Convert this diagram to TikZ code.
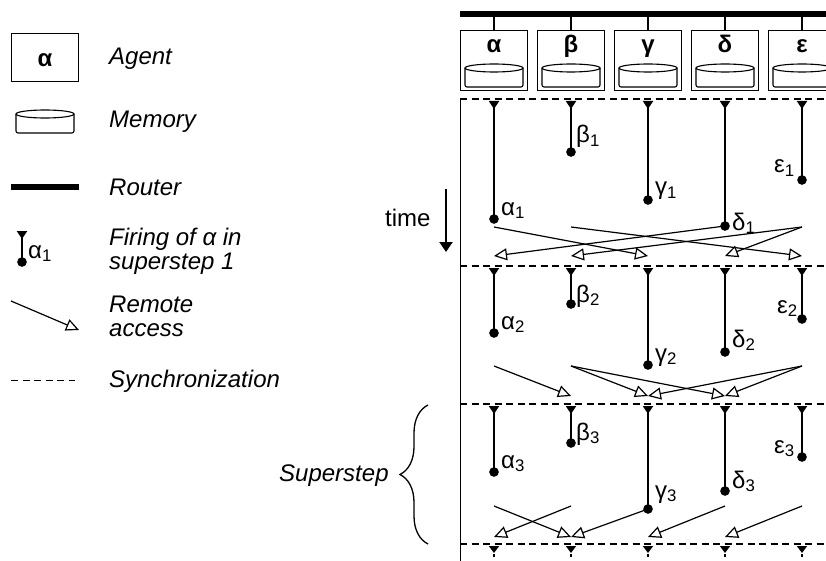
\documentclass[tikz,border=0pt]{standalone}
\usepackage{fontspec}
\setmainfont{Liberation Sans}
\usetikzlibrary{positioning,arrows.meta,decorations.pathreplacing}
\tikzset{
	>=Stealth, % arrow heads of the time axis
	node distance=9pt, % gap between two agents
	every node/.style={font=\fontsize{24}{24}\selectfont, inner sep=0pt},
	agent/.style={rectangle, draw, line width=1pt, minimum width=67pt, minimum height=60pt},
	agentname/.style={font=\fontsize{24}{24}\selectfont\bfseries, anchor=base},
	sublabel/.style={anchor=base west},
	legend/.style={font=\fontsize{24}{24}\selectfont\itshape, anchor=base west, align=left},
	firing/.style={line width=1.8pt, shorten >=-4.75pt, {Triangle[reversed,length=8pt,width=10pt]}-{Circle[length=9.5pt]}},
	stub/.style={line width=1.5pt, {Triangle[reversed,length=7pt,width=10pt]}-, dash pattern=on 0pt off 3pt on 2.5pt off 9pt},
	access/.style={line width=1.2pt, -{Triangle[open,length=13pt,width=12pt]}},
	sync/.style={line width=1.4pt, dash pattern=on 7pt off 4.5pt},
	router/.style={line width=6pt},
	memory/.pic={
		\draw[line width=1.1pt,rounded corners=2pt] (-29,-8) -- (-29,11) -- (29,11) -- (29,-8);
		\draw[line width=1.1pt] (0,-8) ellipse [x radius=29, y radius=4];
	},
}
\begin{document}
\begin{tikzpicture}[x=1pt,y=-1pt]
	\clip (0,0) rectangle (826,561);
	%Nodes
	\node[agent] (alpha) at (494,61) {};
	\node[agent] (beta) [right=of alpha] {};
	\node[agent] (gamma) [right=of beta] {};
	\node[agent] (delta) [right=of gamma] {};
	\node[agent] (epsilon) [right=of delta] {};
	\node[agentname] (nalpha) at (494,53) {α};
	\node[agentname] (nbeta) at (571,53) {β};
	\node[agentname] (ngamma) at (648,53) {γ};
	\node[agentname] (ndelta) at (725,53) {δ};
	\node[agentname] (nepsilon) at (802,53) {ε};
	\pic (malpha) at (494,76) {memory};
	\pic (mbeta) at (571,76) {memory};
	\pic (mgamma) at (648,76) {memory};
	\pic (mdelta) at (725,76) {memory};
	\pic (mepsilon) at (802,76) {memory};

	\coordinate (routerl) at (460,14);
	\coordinate (routerr) at (826,14);
	\coordinate (syncl0) at (460,99);
	\coordinate (syncr0) at (826,99);
	\coordinate (syncl1) at (460,266);
	\coordinate (syncr1) at (826,266);
	\coordinate (syncl2) at (460,404);
	\coordinate (syncr2) at (826,404);
	\coordinate (syncl3) at (460,544);
	\coordinate (syncr3) at (826,544);
	\coordinate (axisb) at (460,561);

	% ends of the firings
	\coordinate (a1) at (494,219);
	\coordinate (b1) at (571,152);
	\coordinate (c1) at (648,200);
	\coordinate (d1) at (725,226);
	\coordinate (e1) at (802,180);
	\coordinate (a2) at (494,333);
	\coordinate (b2) at (571,304);
	\coordinate (c2) at (648,365);
	\coordinate (d2) at (725,352);
	\coordinate (e2) at (802,319);
	\coordinate (a3) at (494,472);
	\coordinate (b3) at (571,443);
	\coordinate (c3) at (648,509);
	\coordinate (d3) at (725,491);
	\coordinate (e3) at (802,457);

	\node[sublabel] (la1) at (501,215) {α\textsubscript{1}};
	\node[sublabel] (lb1) at (576,143) {β\textsubscript{1}};
	\node[sublabel] (lc1) at (655,195) {γ\textsubscript{1}};
	\node[sublabel] (ld1) at (732,230) {δ\textsubscript{1}};
	\node[sublabel] (le1) at (774,173) {ε\textsubscript{1}};
	\node[sublabel] (la2) at (501,329) {α\textsubscript{2}};
	\node[sublabel] (lb2) at (576,302) {β\textsubscript{2}};
	\node[sublabel] (lc2) at (655,361) {γ\textsubscript{2}};
	\node[sublabel] (ld2) at (732,347) {δ\textsubscript{2}};
	\node[sublabel] (le2) at (777,313) {ε\textsubscript{2}};
	\node[sublabel] (la3) at (501,468) {α\textsubscript{3}};
	\node[sublabel] (lb3) at (576,440) {β\textsubscript{3}};
	\node[sublabel] (lc3) at (655,498) {γ\textsubscript{3}};
	\node[sublabel] (ld3) at (732,488) {δ\textsubscript{3}};
	\node[sublabel] (le3) at (774,453) {ε\textsubscript{3}};

	\node[sublabel] (time) at (385,226) {time};
	\coordinate (timea) at (446,189);
	\coordinate (timeb) at (446,252);

	% legend
	\node[agent,minimum height=48pt] (lagent) at (45,58) {};
	\node[agentname] (lagentname) at (45,67) {α};
	\pic (lmemory) at (45,122) {memory};
	\coordinate (lrouterl) at (11,187);
	\coordinate (lrouterr) at (79,187);
	\coordinate (lfiringa) at (22,231);
	\coordinate (lfiringb) at (22,262);
	\node[sublabel] (lfiring) at (28,258) {α\textsubscript{1}};
	\coordinate (laccessa) at (11,301);
	\coordinate (laccessb) at (79,330);
	\coordinate (lsyncl) at (11,380);
	\coordinate (lsyncr) at (75,380);
	\node[legend] (tagent) at (109,65) {Agent};
	\node[legend] (tmemory) at (109,128) {Memory};
	\node[legend] (trouter) at (109,196) {Router};
	\node[legend] (tfiring) at (109,269) {Firing of α in\\superstep 1};
	\node[legend] (taccess) at (109,336) {Remote\\access};
	\node[legend] (tsync) at (109,387) {Synchronization};

	\coordinate (bracea) at (428,544);
	\coordinate (braceb) at (428,405);
	\node[legend] (superstep) at (279,481) {Superstep};

	%Lines
	\draw[router] (routerl) -- (routerr);
	\draw[line width=2pt] (routerl -| alpha) -- (alpha.north)
	 (routerl -| beta) -- (beta.north)
	 (routerl -| gamma) -- (gamma.north)
	 (routerl -| delta) -- (delta.north)
	 (routerl -| epsilon) -- (epsilon.north);
	\draw[line width=1pt] (syncl0) -- (axisb);
	\draw[sync] (syncl0) -- (syncr0);
	\draw[sync] (syncl1) -- (syncr1);
	\draw[sync] (syncl2) -- (syncr2);
	\draw[sync] (syncl3) -- (syncr3);

	\draw[firing] (a1 |- syncl0) ++(0,2) -- (a1);
	\draw[firing] (b1 |- syncl0) ++(0,2) -- (b1);
	\draw[firing] (c1 |- syncl0) ++(0,2) -- (c1);
	\draw[firing] (d1 |- syncl0) ++(0,2) -- (d1);
	\draw[firing] (e1 |- syncl0) ++(0,2) -- (e1);
	\draw[firing] (a2 |- syncl1) ++(0,2) -- (a2);
	\draw[firing] (b2 |- syncl1) ++(0,2) -- (b2);
	\draw[firing] (c2 |- syncl1) ++(0,2) -- (c2);
	\draw[firing] (d2 |- syncl1) ++(0,2) -- (d2);
	\draw[firing] (e2 |- syncl1) ++(0,2) -- (e2);
	\draw[firing] (a3 |- syncl2) ++(0,2) -- (a3);
	\draw[firing] (b3 |- syncl2) ++(0,2) -- (b3);
	\draw[firing] (c3 |- syncl2) ++(0,2) -- (c3);
	\draw[firing] (d3 |- syncl2) ++(0,2) -- (d3);
	\draw[firing] (e3 |- syncl2) ++(0,2) -- (e3);
	\draw[stub] (a1 |- syncl3) ++(0,2) -- ++(0,14);
	\draw[stub] (b1 |- syncl3) ++(0,2) -- ++(0,14);
	\draw[stub] (c1 |- syncl3) ++(0,2) -- ++(0,14);
	\draw[stub] (d1 |- syncl3) ++(0,2) -- ++(0,14);
	\draw[stub] (e1 |- syncl3) ++(0,2) -- ++(0,14);

	% first superstep
	\draw[access] (494,227) -- (648,256);
	\draw[access] (571,227) -- (802,256);
	\draw[access] (d1) -- (494,256);
	\draw[access] (802,227) -- (571,256);
	\draw[access] (802,227) -- (725,256);
	% second superstep
	\draw[access] (494,366) -- (571,396);
	\draw[access] (571,366) -- (648,396);
	\draw[access] (571,366) -- (725,396);
	\draw[access] (802,366) -- (648,396);
	\draw[access] (802,366) -- (725,396);
	% third superstep
	\draw[access] (494,506) -- (571,537);
	\draw[access] (571,506) -- (494,537);
	\draw[access] (c3) -- (571,537);
	\draw[access] (725,506) -- (648,537);
	\draw[access] (802,506) -- (725,537);

	\draw[line width=2pt,-{Triangle[length=10pt,width=13pt]}] (timea) -- (timeb);
	\draw[router] (lrouterl) -- (lrouterr);
	\draw[firing] (lfiringa) -- (lfiringb);
	\draw[access] (laccessa) -- (laccessb);
	\draw[line width=1pt, dash pattern=on 7pt off 4.5pt] (lsyncl) -- (lsyncr);
	\draw[line width=1.3pt, decorate, decoration={brace,amplitude=28pt}] (bracea) -- (braceb);
\end{tikzpicture}
\end{document}
